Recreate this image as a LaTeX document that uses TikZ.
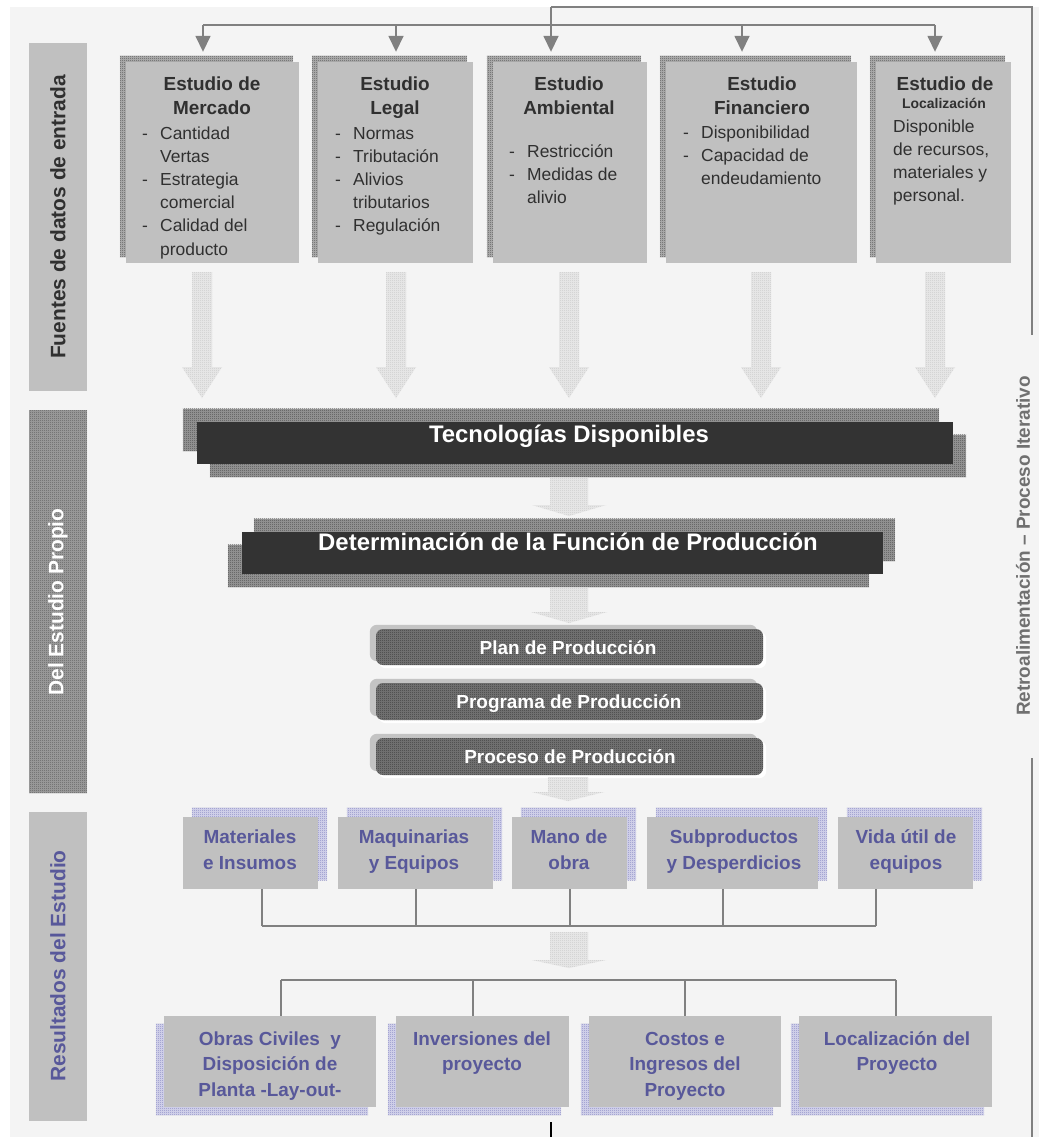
\documentclass[tikz,border=0pt]{standalone}
\usepackage{fontspec}
\setmainfont{Liberation Sans}
\usetikzlibrary{arrows.meta,fit,patterns.meta}

\definecolor{bgc}{HTML}{F4F4F4}
\definecolor{boxg}{HTML}{C0C0C0}
\definecolor{linec}{HTML}{808080}
\definecolor{txt}{HTML}{303030}
\definecolor{btxt}{HTML}{58589A}
\definecolor{darkbar}{HTML}{333333}
\definecolor{planshad}{HTML}{C4C4C4}
\definecolor{violetdot}{HTML}{6E6EB4}
\definecolor{violetbase}{HTML}{DCDCF0}

% one-unit checkerboard used for all dotted fills
\tikzdeclarepattern{
  name=chk,
  type=uncolored,
  bounding box={(0bp,0bp) and (2bp,2bp)},
  tile size={(2bp,2bp)},
  code={
    \fill (0bp,0bp) rectangle (1bp,1bp);
    \fill (1bp,1bp) rectangle (2bp,2bp);
  }
}

\pgfdeclarelayer{paper}
\pgfdeclarelayer{under}
\pgfsetlayers{paper,under,main}

% dash and hanging indent for the lists in the source boxes
\newcommand\bdash{\makebox[18bp][l]{-}}
\newcommand\bskip{\hspace*{18bp}}
\newcommand\rows[2]{\begin{tabular}[t]{@{}#1@{}}#2\end{tabular}}
% block arrow: x, top, head start, tip, half shaft, half head
\newcommand\fatarrow[6]{%
  \path[fatfill] (#1-#5,#2) -- (#1+#5,#2) -- (#1+#5,#3) -- (#1+#6,#3) -- (#1,#4)
    -- (#1-#6,#3) -- (#1-#5,#3) -- cycle;}
% offset copy of a node's rectangle: node, dx, dy, style
\newcommand\shadowof[4]{%
  \path[#4] ([shift={(#2,#3)}]#1.north west) rectangle ([shift={(#2,#3)}]#1.south east);}

\tikzset{
  checker/.style 2 args={fill=#1, postaction={pattern=chk, pattern color=#2}},
  gbox/.style={fill=boxg, draw=none, inner sep=0pt},
  topshad/.style={checker={black!28}{black!78}},
  resshad/.style={checker={violetbase}{violetdot}},
  barshad/.style={checker={black!38}{black!80}},
  fatfill/.style={checker={black!8}{black!26}},
  ownfill/.style={checker={black!36}{black!72}, inner sep=0pt},
  planbox/.style={checker={black!52}{black!84}, inner sep=0pt, rounded corners=7bp},
  techbar/.style={fill=darkbar, inner sep=0pt},
  ttl/.style={font=\bfseries\fontsize{19}{24.5}\selectfont, text=txt, inner sep=0pt, anchor=base},
  itm/.style={font=\fontsize{17.5}{23.3}\selectfont, text=txt, inner sep=0pt, anchor=base west},
  small/.style={font=\bfseries\fontsize{14}{16}\selectfont, text=txt, inner sep=0pt, anchor=base},
  bartxt/.style={font=\bfseries\fontsize{24}{28}\selectfont, text=white, inner sep=0pt, anchor=base},
  plantxt/.style={font=\bfseries\fontsize{19}{22}\selectfont, text=white, inner sep=0pt, anchor=base},
  restxt/.style={font=\bfseries\fontsize{19}{26.3}\selectfont, text=btxt, inner sep=0pt, anchor=base},
  restxtb/.style={restxt, font=\bfseries\fontsize{19}{26}\selectfont},
  sidetxt/.style={rotate=90, font=\bfseries\fontsize{21}{25}\selectfont, inner sep=0pt},
  conn/.style={draw=linec, line width=1.6bp},
  tip/.style={-{Triangle[width=15bp,length=16bp]}, shorten >=10bp}
}

\begin{document}
\begin{tikzpicture}[x=1bp,y=-1bp]
\useasboundingbox (0,0) rectangle (1039,1137);
\begin{pgfonlayer}{paper}
  \fill[bgc] (10,7) rectangle (1039,1137);
\end{pgfonlayer}

% ---- side bars
\node[gbox, fit={(29,43)(87,391)}] (srcbar) {};
\node[sidetxt, text=txt] (srclbl) at (58,217) {Fuentes de datos de entrada};
\node[ownfill, fit={(29,410)(87,793)}] (ownbar) {};
\node[sidetxt, text=white] (ownlbl) at (58,602) {Del Estudio Propio};
\node[gbox, fit={(29,812)(87,1121)}] (resbar) {};
\node[sidetxt, text=btxt] (reslbl) at (58,966) {Resultados del Estudio};

% ---- source studies
\node[gbox, fit={(126,62)(299,263)}] (mkt) {};
\node[gbox, fit={(318,62)(473,263)}] (leg) {};
\node[gbox, fit={(493,62)(647,263)}] (amb) {};
\node[gbox, fit={(666,62)(857,263)}] (fin) {};
\node[gbox, fit={(876,62)(1011,263)}] (loc) {};
\begin{pgfonlayer}{under}
  \foreach \n in {mkt,leg,amb,fin,loc} { \shadowof{\n}{-6}{-6}{topshad} }
\end{pgfonlayer}

\node[ttl] (mktT) at (212,90) {\rows{c}{Estudio de\\ Mercado}};
\node[itm] (mktI) at (142,139) {\rows{l}{\bdash Cantidad\\ \bskip Vertas\\ \bdash Estrategia\\ \bskip comercial\\ \bdash Calidad del\\ \bskip producto}};
\node[ttl] (legT) at (395,90) {\rows{c}{Estudio\\ Legal}};
\node[itm] (legI) at (335,139) {\rows{l}{\bdash Normas\\ \bdash Tributación\\ \bdash Alivios\\ \bskip tributarios\\ \bdash Regulación}};
\node[ttl] (ambT) at (569,90) {\rows{c}{Estudio\\ Ambiental}};
\node[itm] (ambI) at (509,157) {\rows{l}{\bdash Restricción\\ \bdash Medidas de\\ \bskip alivio}};
\node[ttl] (finT) at (762,90) {\rows{c}{Estudio\\ Financiero}};
\node[itm] (finI) at (683,138) {\rows{l}{\bdash Disponibilidad\\ \bdash Capacidad de\\ \bskip endeudamiento}};
\node[ttl] (locT) at (945,90) {Estudio de};
\node[small] (locS) at (944,108) {Localización};
\node[itm] (locI) at (893,132) {\rows{l}{Disponible\\ de recursos,\\ materiales y\\ personal.}};

% ---- feed lines with arrows into each study
\coordinate (busL) at (203,25);
\coordinate (busR) at (935,25);
\coordinate (fbTop) at (551,7);
\coordinate (fbCorner) at (1032,7);
\coordinate (fbUp) at (1032,335);
\coordinate (fbLow) at (1032,758);
\coordinate (fbEnd) at (1032,1137);
\draw[conn] (busL) -- (busR);
\draw[conn] (fbTop) -- (fbCorner) -- (fbUp);
\draw[conn] (fbLow) -- (fbEnd);
\draw[conn, tip] (busL) -- (busL |- mkt.north);
\draw[conn, tip] (396,25) -- (396,25 |- leg.north);
\draw[conn, tip] (fbTop) -- (fbTop |- amb.north);
\draw[conn, tip] (742,25) -- (742,25 |- fin.north);
\draw[conn, tip] (busR) -- (busR |- loc.north);
\node[rotate=90, font=\bfseries\fontsize{19}{22}\selectfont, text=black!56, inner sep=0pt] (fblbl) at (1023,546) {Retroalimentación – Proceso Iterativo};
\coordinate (outA) at (551,1122);
\coordinate (outB) at (551,1137);
\draw[black, line width=1.5bp] (outA) -- (outB);

% ---- block arrows down to the technology bar
\foreach \x in {202,396,569,761,935} { \fatarrow{\x}{272}{367}{398}{10}{20} }

% ---- technology and production function
\node[techbar, fit={(197,422)(953,464)}] (tech) {};
\node[techbar, fit={(242,532)(883,574)}] (prodf) {};
\begin{pgfonlayer}{under}
  \shadowof{tech}{-14}{-13}{barshad}
  \shadowof{tech}{13}{13}{barshad}
  \shadowof{prodf}{12}{-13}{barshad}
  \shadowof{prodf}{-14}{13}{barshad}
\end{pgfonlayer}
\node[bartxt] (techT) at (569,442) {Tecnologías Disponibles};
\fatarrow{569}{478}{505}{516}{19}{37}
\node[bartxt] (prodfT) at (568,550) {Determinación de la Función de Producción};
\fatarrow{569}{588}{612}{623}{19}{38}

% ---- production plan, programme and process
\node[planbox, fit={(376,629)(763,665)}] (plan) {};
\node[planbox, fit={(376,683)(763,720)}] (prog) {};
\node[planbox, fit={(376,738)(763,775)}] (proc) {};
\begin{pgfonlayer}{under}
  \foreach \n in {plan,prog,proc} {
    \shadowof{\n}{3}{3}{fill=white, rounded corners=7bp}
    \shadowof{\n}{-6}{-4}{fill=planshad, rounded corners=7bp}
  }
\end{pgfonlayer}
\node[plantxt] (planT) at (568,654) {Plan de Producción};
\node[plantxt] (progT) at (569,708) {Programa de Producción};
\node[plantxt] (procT) at (570,763) {Proceso de Producción};
\fatarrow{568}{777}{792}{801}{20}{36}

% ---- first row of results
\node[gbox, fit={(183,817)(318,889)}] (mat) {};
\node[gbox, fit={(338,817)(493,889)}] (maq) {};
\node[gbox, fit={(512,817)(627,889)}] (mano) {};
\node[gbox, fit={(647,817)(818,889)}] (sub) {};
\node[gbox, fit={(838,817)(973,889)}] (vida) {};
\begin{pgfonlayer}{under}
  \foreach \n in {mat,maq,mano,sub,vida} { \shadowof{\n}{9}{-9}{resshad} }
\end{pgfonlayer}
\node[restxt] (matT) at (250,843) {\rows{c}{Materiales\\ e Insumos}};
\node[restxt] (maqT) at (414,843) {\rows{c}{Maquinarias\\ y Equipos}};
\node[restxt] (manoT) at (569,843) {\rows{c}{Mano de\\ obra}};
\node[restxt] (subT) at (734,843) {\rows{c}{Subproductos\\ y Desperdicios}};
\node[restxt] (vidaT) at (906,843) {\rows{c}{Vida útil de\\ equipos}};

\coordinate (r1L) at (262,926);
\coordinate (r1R) at (876,926);
\draw[conn] (r1L) -- (r1R);
\draw[conn] (r1L |- mat.south) -- (r1L);
\draw[conn] (416,926 |- maq.south) -- (416,926);
\draw[conn] (570,926 |- mano.south) -- (570,926);
\draw[conn] (723,926 |- sub.south) -- (723,926);
\draw[conn] (r1R |- vida.south) -- (r1R);

\fatarrow{569}{932}{960}{968}{19}{37}

% ---- second row of results
\node[gbox, fit={(164,1016)(376,1107)}] (obr) {};
\node[gbox, fit={(396,1016)(569,1107)}] (inv) {};
\node[gbox, fit={(589,1016)(781,1107)}] (cst) {};
\node[gbox, fit={(799,1016)(992,1107)}] (lcp) {};
\begin{pgfonlayer}{under}
  \foreach \n in {obr,inv,cst,lcp} { \shadowof{\n}{-8}{8}{resshad} }
\end{pgfonlayer}
\node[restxtb] (obrT) at (270,1045) {\rows{c}{Obras Civiles\ \ y\\ Disposición de\\ Planta -Lay-out-}};
\node[restxtb] (invT) at (482,1045) {\rows{c}{Inversiones del\\ proyecto}};
\node[restxtb] (cstT) at (685,1045) {\rows{c}{Costos e\\ Ingresos del\\ Proyecto}};
\node[restxtb] (lcpT) at (897,1045) {\rows{c}{Localización del\\ Proyecto}};

\coordinate (r2L) at (281,980);
\coordinate (r2R) at (896,980);
\draw[conn] (r2L) -- (r2R);
\draw[conn] (r2L) -- (r2L |- obr.north);
\draw[conn] (473,980) -- (473,980 |- inv.north);
\draw[conn] (685,980) -- (685,980 |- cst.north);
\draw[conn] (r2R) -- (r2R |- lcp.north);
\end{tikzpicture}
\end{document}
